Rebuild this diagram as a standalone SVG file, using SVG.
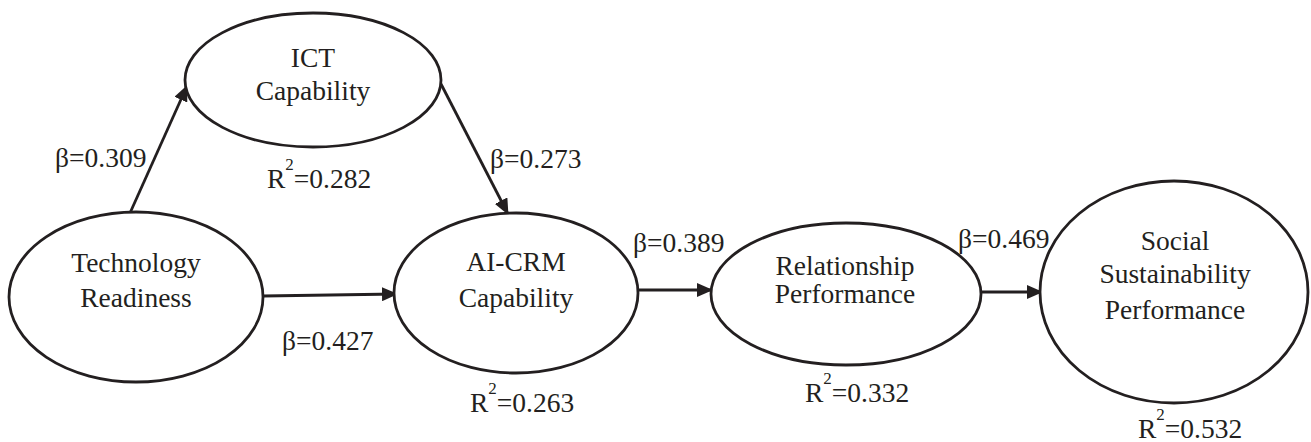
<svg xmlns="http://www.w3.org/2000/svg" width="1311" height="442" viewBox="0 0 1311 442" font-family="'Liberation Serif', 'Times New Roman', Tinos, 'DejaVu Serif', serif">
<style>
.n{fill:#fff;stroke:#231f20;stroke-width:2.8}
.t{font-size:27.5px;fill:#231f20}
.c{text-anchor:middle}
.e{stroke:#231f20;stroke-width:2.8;fill:none}
.s{font-size:17px}
</style>
<defs>
<marker id="ah" markerWidth="16" markerHeight="14" refX="15" refY="7" orient="auto" markerUnits="userSpaceOnUse">
<path d="M0,0 L16,7 L0,14 Z" fill="#231f20"/>
</marker>
</defs>
<rect width="1311" height="442" fill="#fff"/>
<g id="connectors">
<line class="e" x1="130" y1="213" x2="187" y2="86" marker-end="url(#ah)"/>
<line class="e" x1="441" y1="84" x2="508" y2="214" marker-end="url(#ah)"/>
<line class="e" x1="263" y1="296" x2="397" y2="294" marker-end="url(#ah)"/>
<line class="e" x1="638" y1="290" x2="712" y2="290" marker-end="url(#ah)"/>
<line class="e" x1="981" y1="292" x2="1042" y2="292" marker-end="url(#ah)"/>
</g>
<g id="ict">
<ellipse class="n" cx="313" cy="80" rx="128" ry="67"/>
<text class="t c" x="313" y="67">ICT</text>
<text class="t c" x="313" y="100">Capability</text>
<text class="t" x="267" y="188">R<tspan class="s" dy="-18">2</tspan><tspan dy="18">=0.282</tspan></text>
</g>
<g id="tech">
<ellipse class="n" cx="136" cy="297" rx="127" ry="85"/>
<text class="t c" x="136" y="272">Technology</text>
<text class="t c" x="136" y="307">Readiness</text>
</g>
<g id="aicrm">
<ellipse class="n" cx="516" cy="293" rx="122" ry="80"/>
<text class="t c" x="516" y="271">AI-CRM</text>
<text class="t c" x="516" y="307">Capability</text>
<text class="t" x="470" y="412">R<tspan class="s" dy="-18">2</tspan><tspan dy="18">=0.263</tspan></text>
</g>
<g id="relationship">
<ellipse class="n" cx="846" cy="294" rx="135" ry="71"/>
<text class="t c" x="845" y="275">Relationship</text>
<text class="t c" x="845" y="303">Performance</text>
<text class="t" x="805" y="402">R<tspan class="s" dy="-18">2</tspan><tspan dy="18">=0.332</tspan></text>
</g>
<g id="social">
<ellipse class="n" cx="1174" cy="292" rx="134" ry="111"/>
<text class="t c" x="1175" y="250">Social</text>
<text class="t c" x="1175" y="283">Sustainability</text>
<text class="t c" x="1175" y="319">Performance</text>
<text class="t" x="1138" y="438">R<tspan class="s" dy="-18">2</tspan><tspan dy="18">=0.532</tspan></text>
</g>
<g id="labels">
<text class="t" x="55" y="167">β=0.309</text>
<text class="t" x="490" y="168">β=0.273</text>
<text class="t" x="282" y="350">β=0.427</text>
<text class="t" x="633" y="252">β=0.389</text>
<text class="t" x="958" y="248">β=0.469</text>
</g>
</svg>
